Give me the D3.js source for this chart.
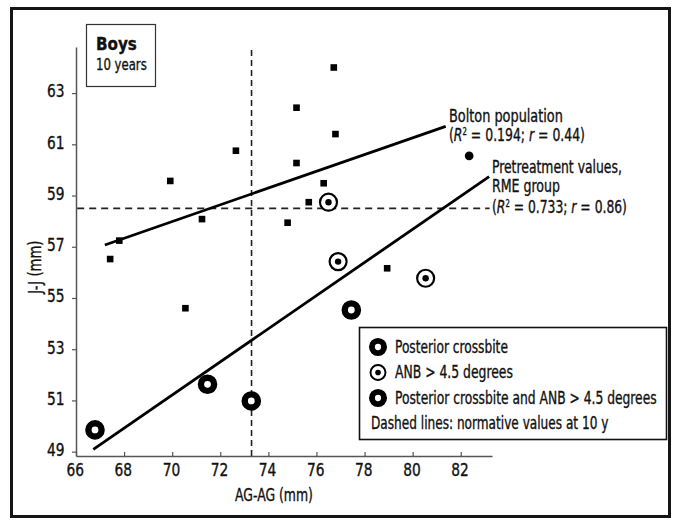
<!DOCTYPE html>
<html>
<head>
<meta charset="utf-8">
<script src="https://cdn.jsdelivr.net/npm/d3@7"></script>
<style>
  body { margin: 0; background: #fff; }
  svg text { font-family: "DejaVu Sans Condensed", "Liberation Sans", "Open Sans", sans-serif; fill: #111; stroke: #111; stroke-width: 0.35px; }
</style>
</head>
<body>
<div id="chart"></div>
<script>
// data
const squareX = [67.42, 67.8, 69.92, 70.55, 71.24, 72.65, 74.8, 75.17, 75.17, 75.68, 76.3, 76.72, 76.79, 78.94];
const squareY = [56.52, 57.24, 59.57, 54.6, 58.08, 60.75, 57.94, 62.43, 60.27, 58.74, 59.48, 64.0, 61.4, 56.16];

const crossbiteX = [66.79, 71.47, 73.29, 77.45];
const crossbiteY = [49.85, 51.63, 50.98, 54.53];

const anbX = [76.5, 76.9, 80.54];
const anbY = [58.74, 56.42, 55.77];

const dotX = [82.35];
const dotY = [60.55];

// regression lines: [x0, y0, x1, y1]
const boltonLine = [67.2, 57.07, 81.375, 61.7];
const rmeLine = [66.72, 49.09, 83.18, 59.74];

// normative values at 10 y
const normX = 73.3;
const normY = 58.5;

const xTicks = [66, 68, 70, 72, 74, 76, 78, 80, 82];
const yTicks = [49, 51, 53, 55, 57, 59, 61, 63];

const legendLabels = ["Posterior crossbite", "ANB > 4.5 degrees", "Posterior crossbite and ANB > 4.5 degrees"];
const legendNote = "Dashed lines: normative values at 10 y";

const width = 675, height = 520;

const svg = d3.select("#chart").append("svg")
    .attr("width", width)
    .attr("height", height);

// squeeze a text horizontally to the width it has in the original (condensed face)
function fit(sel, w) {
    sel.each(function () {
        const node = this;
        const bb = node.getBBox();
        const k = w / bb.width;
        const a = d3.select(node).attr("text-anchor") || "start";
        const ax = a === "end" ? bb.x + bb.width : a === "middle" ? bb.x + bb.width / 2 : bb.x;
        d3.select(node).attr("transform", `translate(${ax},0) scale(${k},1) translate(${-ax},0)`);
    });
}

// outer frame
svg.append("rect")
    .attr("x", 11.5).attr("y", 8.5)
    .attr("width", 658).attr("height", 508)
    .attr("fill", "none")
    .attr("stroke", "#151515")
    .attr("stroke-width", 3);

const x = d3.scaleLinear().domain([66, 83.3]).range([76, 492]);
const y = d3.scaleLinear().domain([48.83, 64.8]).range([456, 47]);

// axes
const xAxis = svg.append("g")
    .attr("transform", "translate(0,456)")
    .call(d3.axisBottom(x).tickValues(xTicks).tickSize(-4).tickSizeOuter(0).tickPadding(8));

const yAxis = svg.append("g")
    .attr("transform", "translate(76,0)")
    .call(d3.axisLeft(y).tickValues(yTicks).tickSize(4).tickSizeOuter(0).tickPadding(5));

[xAxis, yAxis].forEach(g => {
    g.select(".domain").attr("stroke", "#555").attr("stroke-width", 1.5);
    g.selectAll(".tick line").attr("stroke", "#555").attr("stroke-width", 1.2);
    g.selectAll(".tick text")
        .attr("font-size", 17.5)
        .attr("font-family", null)
        .attr("fill", "#111");
});
yAxis.selectAll(".tick text").attr("dy", "0.22em");
fit(xAxis.selectAll(".tick text"), 17.5);
fit(yAxis.selectAll(".tick text"), 17.5);

fit(svg.append("text")
    .attr("x", 274).attr("y", 501)
    .attr("text-anchor", "middle")
    .attr("font-size", 17.5)
    .text("AG-AG (mm)"), 78);

const yTitle = svg.append("g").attr("transform", "translate(41,267) rotate(-90)");
fit(yTitle.append("text")
    .attr("text-anchor", "middle")
    .attr("font-size", 17.5)
    .text("J-J (mm)"), 54);

// dashed normative lines
svg.append("line")
    .attr("x1", x(normX)).attr("x2", x(normX))
    .attr("y1", y(48.83)).attr("y2", y(64.7))
    .attr("stroke", "#222").attr("stroke-width", 1.6)
    .attr("stroke-dasharray", "6,4");

svg.append("line")
    .attr("x1", x(66.05)).attr("x2", x(83.2))
    .attr("y1", y(normY)).attr("y2", y(normY))
    .attr("stroke", "#222").attr("stroke-width", 1.6)
    .attr("stroke-dasharray", "7,5");

// regression lines
[boltonLine, rmeLine].forEach(l => {
    svg.append("line")
        .attr("x1", x(l[0])).attr("y1", y(l[1]))
        .attr("x2", x(l[2])).attr("y2", y(l[3]))
        .attr("stroke", "#000").attr("stroke-width", 2.8);
});

// points
svg.append("g").selectAll("rect")
    .data(squareX.map((v, i) => [v, squareY[i]]))
    .enter().append("rect")
    .attr("x", d => x(d[0]) - 3.3).attr("y", d => y(d[1]) - 3.3)
    .attr("width", 6.6).attr("height", 6.6)
    .attr("fill", "#000");

function crossbite(g, cx, cy, s) {
    g.append("circle").attr("cx", cx).attr("cy", cy).attr("r", 6.6 * s)
        .attr("fill", "#fff").attr("stroke", "#000").attr("stroke-width", 6.4 * s);
}
function anb(g, cx, cy, s) {
    g.append("circle").attr("cx", cx).attr("cy", cy).attr("r", 8.5 * s)
        .attr("fill", "#fff").attr("stroke", "#000").attr("stroke-width", 2.2 * s);
    g.append("circle").attr("cx", cx).attr("cy", cy).attr("r", 3.2 * s).attr("fill", "#000");
}

const marks = svg.append("g");
crossbiteX.forEach((v, i) => crossbite(marks, x(v), y(crossbiteY[i]), 1));
anbX.forEach((v, i) => anb(marks, x(v), y(anbY[i]), 1));
dotX.forEach((v, i) => {
    marks.append("circle").attr("cx", x(v)).attr("cy", y(dotY[i])).attr("r", 4.4).attr("fill", "#000");
});

// annotations
function rText(g, xp, yp, r2, r) {
    const t = g.append("text").attr("x", xp).attr("y", yp).attr("font-size", 18);
    t.append("tspan").text("(");
    t.append("tspan").attr("font-style", "italic").text("R");
    t.append("tspan").attr("font-size", 10).attr("dy", -6).text("2");
    t.append("tspan").attr("dy", 6).text(" = " + r2 + "; ");
    t.append("tspan").attr("font-style", "italic").text("r");
    t.append("tspan").text(" = " + r + ")");
    return t;
}

const ann = svg.append("g");
fit(ann.append("text").attr("x", 449).attr("y", 122).attr("font-size", 18).text("Bolton population"), 114);
fit(rText(ann, 449, 141.5, "0.194", "0.44"), 136);
fit(ann.append("text").attr("x", 492).attr("y", 173).attr("font-size", 17.5).text("Pretreatment values,"), 130);
fit(ann.append("text").attr("x", 492).attr("y", 192).attr("font-size", 17.5).text("RME group"), 68);
fit(rText(ann, 492, 213.5, "0.733", "0.86"), 135);

// Boys box
svg.append("rect")
    .attr("x", 86.5).attr("y", 24.5).attr("width", 69).attr("height", 62)
    .attr("fill", "#fff").attr("stroke", "#333").attr("stroke-width", 1.2);
fit(svg.append("text").attr("x", 96).attr("y", 50).attr("font-size", 18.5).attr("font-weight", "bold").text("Boys"), 41);
fit(svg.append("text").attr("x", 96).attr("y", 70).attr("font-size", 16.5).text("10 years"), 51);

// legend
const leg = svg.append("g");
leg.append("rect")
    .attr("x", 359.5).attr("y", 327.5).attr("width", 307).attr("height", 112)
    .attr("fill", "#fff").attr("stroke", "#111").attr("stroke-width", 1.6);
const legY = [353, 378.5, 404];
const legW = [113, 118, 262];
legendLabels.forEach((lab, i) => {
    if (i === 1) anb(leg, 378, legY[i] - 6, 0.88);
    else crossbite(leg, 378, legY[i] - 6, 0.92);
    fit(leg.append("text").attr("x", 395).attr("y", legY[i]).attr("font-size", 18).text(lab), legW[i]);
});
fit(leg.append("text").attr("x", 371).attr("y", 429.5).attr("font-size", 18).text(legendNote), 238);
</script>
</body>
</html>
